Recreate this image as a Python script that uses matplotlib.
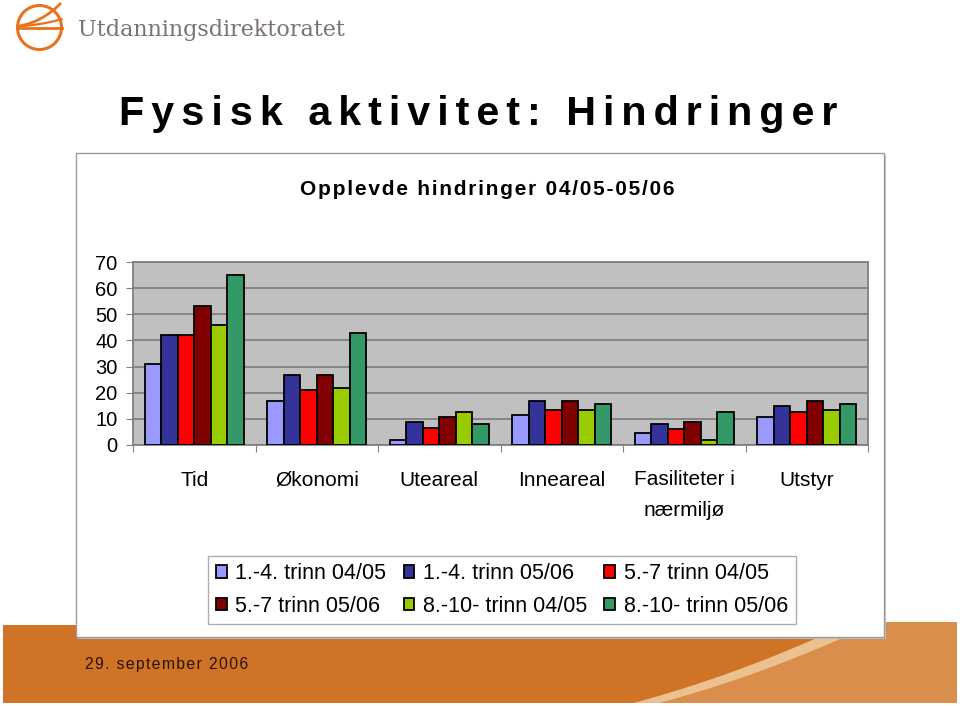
import numpy as np
import matplotlib
matplotlib.use("Agg")
import matplotlib.pyplot as plt
from matplotlib.patches import Rectangle, Circle, Polygon

# data
categories = ["Tid", "Økonomi", "Uteareal", "Inneareal", "Fasiliteter i\nnærmiljø", "Utstyr"]
series = ["1.-4. trinn 04/05", "1.-4. trinn 05/06", "5.-7 trinn 04/05",
          "5.-7 trinn 05/06", "8.-10- trinn 04/05", "8.-10- trinn 05/06"]
trinn14_0405 = [31, 17, 2, 11.5, 4.4, 10.6]
trinn14_0506 = [42, 26.6, 8.7, 16.8, 8, 14.8]
trinn57_0405 = [42, 21, 6.5, 13.4, 6, 12.8]
trinn57_0506 = [53, 26.6, 10.6, 16.8, 8.7, 17]
trinn810_0405 = [46, 21.7, 12.8, 13.4, 2.1, 13.4]
trinn810_0506 = [65, 43, 8, 15.6, 12.8, 15.6]
values = [trinn14_0405, trinn14_0506, trinn57_0405, trinn57_0506, trinn810_0405, trinn810_0506]
colors = ["#9999FF", "#333399", "#FF0000", "#800000", "#99CC00", "#339966"]
yticks = [0, 10, 20, 30, 40, 50, 60, 70]

SANS = ["Liberation Sans", "DejaVu Sans"]
W, H = 960, 706
fig = plt.figure(figsize=(W / 100, H / 100), dpi=100)
fig.patch.set_facecolor("white")


def spaced(s, sep):
    return sep.join(s)


def bez(p0, c, p2, n=60):
    t = np.linspace(0, 1, n)[:, None]
    return (1 - t) ** 2 * np.array(p0) + 2 * (1 - t) * t * np.array(c) + t ** 2 * np.array(p2)


# background decorations in pixel coords (y down)
bg = fig.add_axes([0, 0, 1, 1], zorder=0)
bg.set_xlim(0, W); bg.set_ylim(H, 0); bg.axis("off")
bg.add_patch(Rectangle((3, 625), 954, 78, fc="#CF7427", ec="none"))
edge_l = bez((622, 706), (735, 677), (852, 622))
edge_r = edge_l + np.array([26, 0])
bg.add_patch(Polygon(np.vstack([edge_r, [[957, 622], [957, 703]]]), closed=True,
                     fc="#D98F4B", ec="none"))
bg.add_patch(Polygon(np.vstack([edge_l, edge_r[::-1]]), closed=True, fc="#EBC18F", ec="none"))
bg.add_patch(Rectangle((0, 703), W, 3, fc="white", ec="none"))
bg.text(85, 664, spaced("29. september 2006", "\u200a"), fontsize=11.3, color="#2a1208",
        va="center", ha="left", family=SANS)

# logo
lc = "#E8731E"
bg.add_patch(Circle((39.5, 27.5), 22, fill=False, ec=lc, lw=2.2))
bg.plot([17.5, 61.5], [27.5, 27.5], color=lc, lw=2)
c1 = bez((19, 26), (42, 22), (60, 4))
c2 = bez((23, 26), (46, 24), (61.5, 19))
bg.plot(c1[:, 0], c1[:, 1], color=lc, lw=2)
bg.plot(c2[:, 0], c2[:, 1], color=lc, lw=1.6)
bg.text(78, 30, "Utdanningsdirektoratet", fontsize=16, color="#7a7370",
        family="DejaVu Serif", va="center", ha="left")

# slide title (letter-spaced)
bg.text(119, 125, spaced("Fysisk aktivitet: Hindringer", "\u200a\u200a"),
        fontsize=29.7, fontweight="bold", family=SANS, va="baseline", ha="left")

# chart frame
bg.add_patch(Rectangle((78, 155), 808, 484, fc="#C4C4C4", ec="none"))
bg.add_patch(Rectangle((76, 153), 808, 484, fc="white", ec="#9a9a9a", lw=1))
bg.text(300, 195, spaced("Opplevde hindringer 04/05-05/06", "\u200a"), fontsize=15,
        fontweight="bold", family=SANS, va="baseline", ha="left")

# bar chart
ax = fig.add_axes([133 / W, 1 - 445 / H, (868 - 133) / W, (445 - 262) / H], zorder=2)
ax.set_facecolor("#C0C0C0")
x = np.arange(len(categories))
bw = 0.135
for i, (vals, c) in enumerate(zip(values, colors)):
    ax.bar(x + (i - 2.5) * bw, vals, bw, color=c, edgecolor="black", lw=1.3,
           label=series[i], zorder=3)
ax.set_xlim(-0.5, len(categories) - 0.5)
ax.set_ylim(0, 70)
ax.set_yticks(yticks)
ax.set_yticklabels([str(v) for v in yticks], fontsize=14.5, family=SANS)
ax.grid(axis="y", color="#808080", lw=1.3, zorder=1)
ax.set_xticks(np.arange(len(categories) + 1) - 0.5)
ax.set_xticklabels([])
ax.tick_params(axis="x", length=5, color="#808080")
ax.tick_params(axis="y", length=5, color="#808080", pad=6)
for s in ax.spines.values():
    s.set_color("#808080"); s.set_linewidth(1.3)

# category labels: first-line baseline ~41 px below the axis, 32 px line pitch
for xi, lab in zip(x, categories):
    nl = lab.count("\n")
    ax.annotate(lab, (xi, 0), xycoords=("data", "axes fraction"),
                xytext=(0, -(41 + 30 * nl) * 0.72), textcoords="offset points",
                ha="center", va="baseline", fontsize=15, family=SANS,
                linespacing=1.83, multialignment="center")

h, l = ax.get_legend_handles_labels()
order = [0, 3, 1, 4, 2, 5]
leg = fig.legend([h[k] for k in order], [l[k] for k in order], ncol=3,
                 loc="center", bbox_to_anchor=(502 / W, 1 - 590 / H),
                 prop={"family": SANS, "size": 15.5},
                 frameon=True, fancybox=False, edgecolor="#9a9a9a",
                 handlelength=0.5, handleheight=0.5, handletextpad=0.4,
                 columnspacing=0.8, labelspacing=0.55, borderpad=0.35)
leg.get_frame().set_linewidth(1)
leg.set_zorder(3)

fig.savefig("out.png", dpi=100)
